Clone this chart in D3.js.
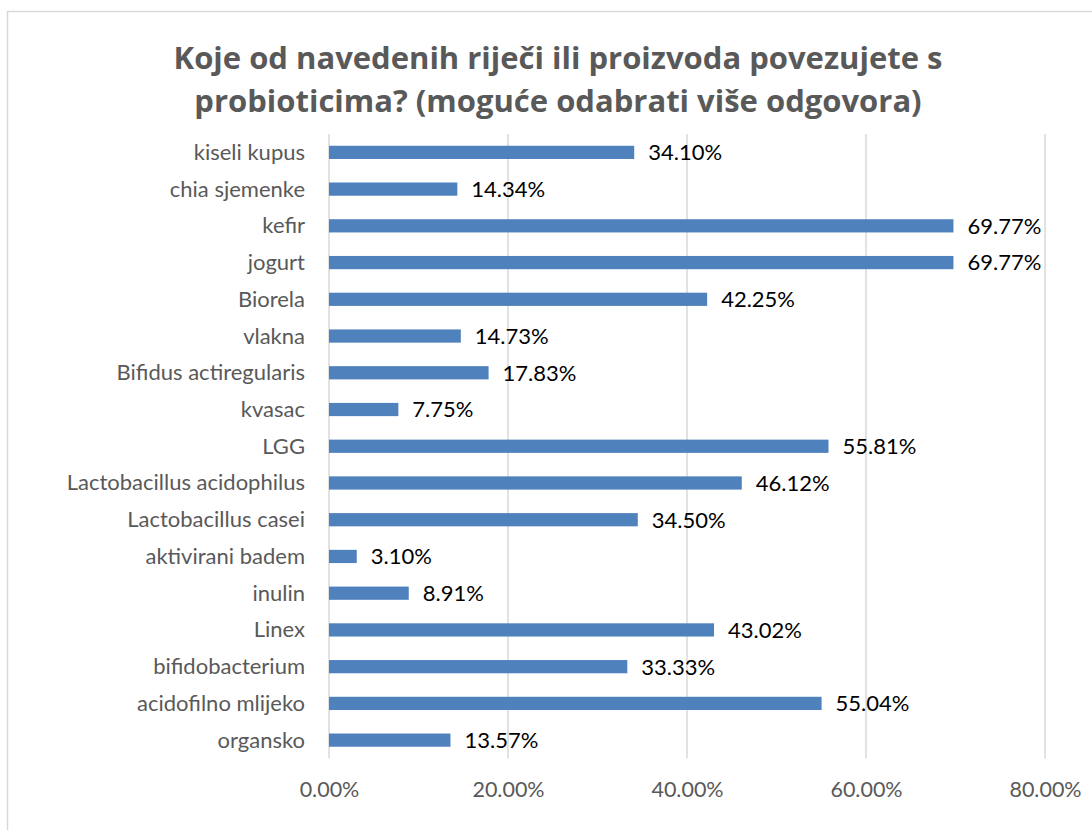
<!DOCTYPE html>
<html><head><meta charset="utf-8">
<script src="https://cdn.jsdelivr.net/npm/d3@7"></script>
<style>body{margin:0;background:#fff}svg{display:block}</style>
</head><body>
<script>
const categories = ["kiseli kupus","chia sjemenke","kefir","jogurt","Biorela","vlakna","Bifidus actiregularis","kvasac","LGG","Lactobacillus acidophilus","Lactobacillus casei","aktivirani badem","inulin","Linex","bifidobacterium","acidofilno mlijeko","organsko"];
const values = [34.10,14.34,69.77,69.77,42.25,14.73,17.83,7.75,55.81,46.12,34.50,3.10,8.91,43.02,33.33,55.04,13.57];
const tickValues = [0,20,40,60,80];
const titleLines = ["Koje od navedenih riječi ili proizvoda povezujete s","probioticima? (moguće odabrati više odgovora)"];

const W=1092,H=830;
const svg=d3.select("body").append("svg").attr("width",W).attr("height",H);
svg.append("rect").attr("x",7.5).attr("y",11.5).attr("width",W).attr("height",H).attr("fill","#fff").attr("stroke","#d9d9d9").attr("stroke-width",1.5);

const x=d3.scaleLinear().domain([0,80]).range([329,1045]);
const y=d3.scaleBand().domain(categories).range([134,758.5]).paddingInner(0.64).paddingOuter(0.32);

svg.append("g").selectAll("line").data(tickValues).join("line")
 .attr("x1",d=>x(d)).attr("x2",d=>x(d)).attr("y1",134).attr("y2",758.5)
 .attr("stroke","#d9d9d9").attr("stroke-width",1.5);

const tfont="'Open Sans', 'Liberation Sans', sans-serif";
const font="Lato, 'Open Sans', sans-serif";
svg.append("g").selectAll("text").data(titleLines).join("text")
 .attr("x",558).attr("y",(d,i)=>69+i*43).attr("text-anchor","middle")
 .attr("font-family",tfont).attr("font-weight","bold").attr("font-size",31).attr("fill","#595959").text(d=>d);

svg.append("g").selectAll("rect").data(values).join("rect")
 .attr("x",x(0)).attr("y",(d,i)=>y(categories[i])).attr("height",y.bandwidth())
 .attr("width",d=>x(d)-x(0)).attr("fill","#4f81bd");

svg.append("g").selectAll("text").data(values).join("text")
 .attr("x",d=>x(d)+14).attr("y",(d,i)=>y(categories[i])+y.bandwidth()/2).attr("dy","0.36em")
 .attr("font-family",font).attr("font-size",22).attr("fill","#000").text(d=>d.toFixed(2)+"%");

const yAxis=d3.axisLeft(y).tickSize(0).tickPadding(0);
const ya=svg.append("g").attr("transform","translate(305,0)").call(yAxis);
ya.select(".domain").remove();
ya.selectAll("text").attr("font-family",font).attr("font-size",22).attr("fill","#595959").attr("dy","0.34em");

const xAxis=d3.axisBottom(x).tickValues(tickValues).tickSize(0).tickPadding(0).tickFormat(d=>d.toFixed(2)+"%");
const xa=svg.append("g").attr("transform","translate(0,782)").call(xAxis);
xa.select(".domain").remove();
xa.selectAll("text").attr("font-family",font).attr("font-size",21.5).attr("fill","#595959");
</script>
</body></html>
